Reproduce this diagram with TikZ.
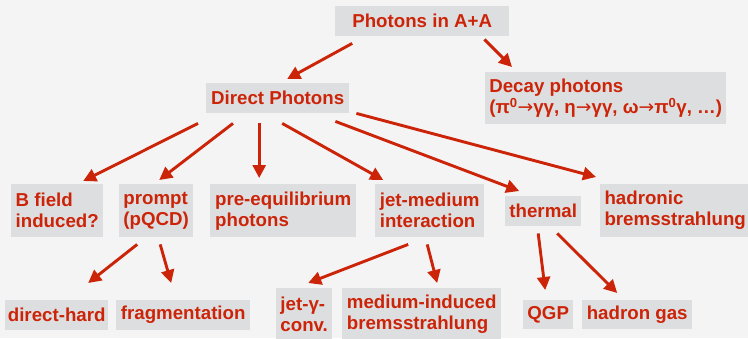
\documentclass[tikz,border=0pt]{standalone}
\usepackage{fontspec}
\setmainfont{Liberation Sans}
\newfontfamily\arrowfont{DejaVu Sans}
\usetikzlibrary{arrows.meta,calc}
\definecolor{paper}{RGB}{244,244,244}
\definecolor{boxgrey}{RGB}{221,222,224}
\definecolor{photred}{RGB}{204,36,8}
\newcommand{\ra}{{\arrowfont\mdseries→}}

\begin{document}
\begin{tikzpicture}[x=1pt,y=-1pt,
  box/.style={fill=boxgrey,text=photred,font=\fontsize{18.7}{21}\selectfont\bfseries,
    align=left,inner sep=0pt,anchor=north west},
  arr/.style={-{Triangle[length=13pt,width=13pt]},photred,line width=2.9pt}]
  \fill[paper] (0,0) rectangle (748,338);
  \useasboundingbox (0,0) rectangle (748,338);
  % top levels
  \node[box,minimum width=174pt,minimum height=30pt,align=center] (photons) at (335,6) {Photons in A+A};
  \node[box,minimum width=241pt,minimum height=52pt] (decay) at (485,72)
    {Decay photons\\(π\textsuperscript{0}\ra γγ, η\ra γγ, ω\ra π\textsuperscript{0}γ, …)};
  \node[box,minimum width=143pt,minimum height=30pt] (direct) at (206,83) {Direct Photons};
  % sources
  \node[box,minimum width=92pt,minimum height=53pt] (bfield) at (11,184) {B field\\induced?};
  \node[box,minimum width=74pt,minimum height=53pt] (prompt) at (119,184) {prompt\\(pQCD)};
  \node[box,minimum width=146pt,minimum height=53pt] (preeq) at (210,184) {pre-equilibrium\\photons};
  \node[box,minimum width=109pt,minimum height=53pt] (jetmed) at (375,184) {jet-medium\\interaction};
  \node[box,minimum width=76pt,minimum height=30pt] (thermal) at (505,196) {thermal};
  \node[box,minimum width=150pt,minimum height=53pt] (hadronic) at (600,184) {hadronic\\bremsstrahlung};
  % bottom row
  \node[box,minimum width=103pt,minimum height=30pt] (dirhard) at (5,300) {direct-hard};
  \node[box,minimum width=134pt,minimum height=30pt] (frag) at (116,300) {fragmentation};
  \node[box,minimum width=56pt,minimum height=53pt] (jetconv) at (276,288) {jet-γ-\\conv.};
  \node[box,minimum width=159pt,minimum height=53pt] (medbrems) at (342,288) {medium-induced\\bremsstrahlung};
  \node[box,minimum width=50pt,minimum height=29pt] (qgp) at (523,300) {QGP};
  \node[box,minimum width=110pt,minimum height=29pt] (hgas) at (582,300) {hadron gas};
  % arrows
  \foreach \a/\da/\b/\db in {photons.south/{-70,7}/direct.north/{9.5,-4},
      photons.south east/{-25,3}/decay.north west/{27,-5},
      direct.south west/{-8,10}/bfield.north/{26,-3},
      direct.south west/{27,10}/prompt.north/{3,-4},
      direct.south/{-18.5,10}/preeq.north/{-24,-6},
      direct.south/{4.5,10}/jetmed.north/{-46.5,-4},
      direct.south east/{-14,8}/thermal.north/{-24,-5},
      direct.south east/{7,0}/hadronic.north west/{-4,-7},
      prompt.south/{-19,7}/dirhard.north/{31.5,-17},
      prompt.south/{4,7}/frag.north/{-12,-17},
      jetmed.south/{-21.5,7}/jetconv.north/{4,-5},
      jetmed.south/{-2.5,7}/medbrems.north/{15.5,-5},
      thermal.south/{-5,7}/qgp.north/{-3,-10},
      thermal.south/{14,7}/hgas.north/{-20,-7}}
    \draw[arr] ($(\a)+(\da)$) -- ($(\b)+(\db)$);
\end{tikzpicture}
\end{document}
